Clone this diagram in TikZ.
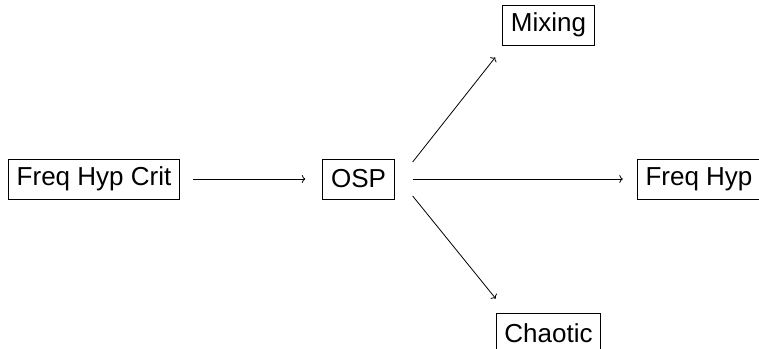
\documentclass[tikz,border=0pt]{standalone}
\usepackage{fontspec}
\setmainfont{Liberation Sans}
\usetikzlibrary{arrows.meta}
\begin{document}
\begin{tikzpicture}[x=1pt,y=1pt,
  box/.style={draw, line width=0.8pt, inner xsep=8.3pt, inner ysep=0pt, minimum height=40pt,
    font=\fontsize{26}{30}\selectfont, text=black},
  arr/.style={line width=0.8pt, -{To[length=3.5pt,width=8pt]}}]
\useasboundingbox (0,0) rectangle (759,348);
\node[box] (fhc) at (94,169) {Freq Hyp Crit};
\node[box] (osp) at (358.5,169) {OSP};
\node[box] (mix) at (548.5,323) {Mixing};
\node[box] (fh) at (699,169) {Freq Hyp};
\node[box] (cha) at (548.5,15) {Chaotic};
\draw[arr, shorten <=13pt, shorten >=17pt] (fhc.east) -- (osp.west);
\draw[arr, shorten <=18pt, shorten >=14pt] (osp.east) -- (fh.west);
\draw[arr] ([xshift=18pt,yshift=17pt]osp.east) -- ([xshift=-7pt,yshift=-12pt]mix.south west);
\draw[arr] ([xshift=18pt,yshift=-17pt]osp.east) -- ([yshift=14pt]cha.north west);
\end{tikzpicture}
\end{document}
